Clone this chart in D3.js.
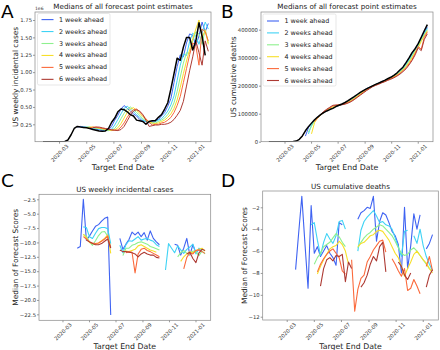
<!DOCTYPE html>
<html>
<head>
<meta charset="utf-8">
<script src="https://cdn.jsdelivr.net/npm/d3@7"></script>
<style>
  body { margin: 0; background: #fff; }
  svg { display: block; font-family: "DejaVu Sans", sans-serif; }
</style>
</head>
<body>
<div id="chart"></div>
<script>
const n = null;

// week-ending dates (Saturdays), one per column of every series below
const weekEnds = [
  "2020-01-25", "2020-02-01", "2020-02-08", "2020-02-15", "2020-02-22", "2020-02-29", "2020-03-07", "2020-03-14", "2020-03-21", "2020-03-28",
  "2020-04-04", "2020-04-11", "2020-04-18", "2020-04-25", "2020-05-02", "2020-05-09", "2020-05-16", "2020-05-23", "2020-05-30", "2020-06-06",
  "2020-06-13", "2020-06-20", "2020-06-27", "2020-07-04", "2020-07-11", "2020-07-18", "2020-07-25", "2020-08-01", "2020-08-08", "2020-08-15",
  "2020-08-22", "2020-08-29", "2020-09-05", "2020-09-12", "2020-09-19", "2020-09-26", "2020-10-03", "2020-10-10", "2020-10-17", "2020-10-24",
  "2020-10-31", "2020-11-07", "2020-11-14", "2020-11-21", "2020-11-28", "2020-12-05", "2020-12-12", "2020-12-19", "2020-12-26", "2021-01-02",
  "2021-01-09", "2021-01-16", "2021-01-23", "2021-01-30"
];

const horizonLabels = ["1 week ahead", "2 weeks ahead", "3 weeks ahead", "4 weeks ahead", "5 weeks ahead", "6 weeks ahead"];
const xTickLabels = ["2020-03-01", "2020-05-01", "2020-07-01", "2020-09-01", "2020-11-01", "2021-01-01"];

// A: US weekly incidental cases (x 1e6)
const casesTruth = [
  0, 0, 0, 0, 0, 0, 0.0004, 0.003, 0.025, 0.10,
  0.19, 0.22, 0.21, 0.205, 0.20, 0.19, 0.175, 0.165, 0.155, 0.15,
  0.155, 0.19, 0.28, 0.34, 0.43, 0.47, 0.46, 0.43, 0.39, 0.37,
  0.31, 0.30, 0.29, 0.25, 0.29, 0.30, 0.30, 0.35, 0.39, 0.47,
  0.56, 0.76, 0.98, 1.20, 1.17, 1.36, 1.50, 1.50, 1.32, 1.45,
  1.71, 1.52, 1.24, n
];
const casesH1 = [
  n, n, n, n, n, n, n, n, n, n,
  n, 0.21, 0.22, 0.21, 0.205, 0.20, 0.19, 0.18, 0.17, 0.16,
  0.16, 0.17, 0.22, 0.31, 0.38, 0.47, 0.52, 0.48, 0.44, 0.40,
  0.37, 0.32, 0.30, 0.29, 0.27, 0.29, 0.31, 0.32, 0.37, 0.42,
  0.51, 0.62, 0.85, 1.08, 1.25, 1.22, 1.42, 1.55, 1.53, 1.38,
  1.52, 1.72, 1.58, 1.70
];
const casesH2 = [
  n, n, n, n, n, n, n, n, n, n,
  n, n, 0.21, 0.21, 0.21, 0.205, 0.20, 0.19, 0.18, 0.17,
  0.16, 0.16, 0.18, 0.24, 0.32, 0.40, 0.48, 0.51, 0.47, 0.43,
  0.39, 0.35, 0.31, 0.29, 0.28, 0.27, 0.29, 0.31, 0.33, 0.38,
  0.44, 0.53, 0.66, 0.88, 1.10, 1.26, 1.24, 1.44, 1.56, 1.52,
  1.40, 1.56, 1.72, 1.62
];
const casesH3 = [
  n, n, n, n, n, n, n, n, n, n,
  n, n, n, 0.20, 0.21, 0.21, 0.20, 0.195, 0.19, 0.18,
  0.17, 0.16, 0.165, 0.19, 0.25, 0.33, 0.41, 0.47, 0.50, 0.46,
  0.42, 0.38, 0.33, 0.30, 0.28, 0.27, 0.27, 0.29, 0.31, 0.34,
  0.39, 0.46, 0.56, 0.72, 0.93, 1.13, 1.28, 1.27, 1.45, 1.58,
  1.55, 1.40, 1.62, 1.42
];
const casesH4 = [
  n, n, n, n, n, n, n, n, n, n,
  n, n, n, n, 0.20, 0.21, 0.21, 0.20, 0.195, 0.185,
  0.18, 0.17, 0.16, 0.17, 0.20, 0.26, 0.34, 0.42, 0.47, 0.49,
  0.45, 0.41, 0.36, 0.32, 0.29, 0.27, 0.26, 0.27, 0.29, 0.31,
  0.35, 0.40, 0.48, 0.60, 0.78, 0.98, 1.16, 1.32, 1.48, 1.62,
  1.75, 1.50, 1.60, 1.40
];
const casesH5 = [
  n, n, n, n, n, n, n, n, n, n,
  n, n, n, n, n, 0.20, 0.21, 0.21, 0.20, 0.19,
  0.185, 0.18, 0.17, 0.165, 0.17, 0.21, 0.27, 0.35, 0.42, 0.46,
  0.47, 0.43, 0.38, 0.33, 0.28, 0.24, 0.25, 0.25, 0.27, 0.28,
  0.31, 0.35, 0.42, 0.52, 0.65, 0.85, 1.05, 1.25, 1.42, 1.38,
  1.10, 1.62, 1.58, 1.45
];
const casesH6 = [
  n, n, n, n, n, n, n, n, n, n,
  n, n, n, n, n, n, 0.20, 0.21, 0.21, 0.20,
  0.19, 0.18, 0.17, 0.165, 0.16, 0.175, 0.22, 0.30, 0.38, 0.44,
  0.46, 0.44, 0.39, 0.31, 0.22, 0.23, 0.24, 0.24, 0.25, 0.25,
  0.26, 0.28, 0.32, 0.38, 0.45, 0.58, 0.80, 1.02, 1.22, 1.45,
  1.28, 1.10, 1.45, 1.30
];

// B: US cumulative deaths
const deathsTruth = [
  0, 0, 0, 0, 0, 0, 20, 60, 340, 2200,
  8500, 20600, 38900, 53800, 66300, 78300, 88000, 96600, 103800, 109800,
  114700, 119100, 125500, 130000, 134600, 140000, 146500, 154000, 161000, 168500,
  175700, 182600, 188600, 193800, 199500, 204500, 209300, 214200, 219000, 224800,
  230000, 236600, 245000, 255800, 266000, 282000, 299000, 318000, 332000, 350000,
  373000, 396000, 418000, n
];
const deathsH1 = [
  n, n, n, n, n, n, n, n, n, n,
  n, n, 20000, 50000, 65000, 78000, 88000, 97000, 104000, 110000,
  116000, 121000, 126000, 129000, 133000, 138000, 145000, 152000, 160000, 167000,
  175000, 182000, 189000, 194000, 199000, 204000, 209000, 214000, 219000, 224000,
  230000, 236000, 244000, 254000, 266000, 280000, 297000, 316000, 333000, 349000,
  370000, 392000, 410000, n
];
const deathsH2 = [
  n, n, n, n, n, n, n, n, n, n,
  n, n, n, 28000, 60000, 76000, 87000, 96000, 104000, 111000,
  117000, 122000, 127000, 130000, 133000, 137000, 143000, 150000, 158000, 166000,
  174000, 181000, 188000, 194000, 199000, 204000, 209000, 213000, 218000, 223000,
  229000, 235000, 242000, 251000, 262000, 276000, 292000, 310000, 330000, 345000,
  365000, 385000, 405000, n
];
const deathsH3 = [
  n, n, n, n, n, n, n, n, n, n,
  n, n, n, 35000, 55000, 74000, 86000, 96000, 104000, 112000,
  118000, 123000, 127000, 130000, 133000, 137000, 142000, 148000, 156000, 164000,
  172000, 180000, 187000, 193000, 199000, 204000, 208000, 213000, 217000, 222000,
  227000, 233000, 240000, 249000, 259000, 272000, 288000, 305000, 325000, 340000,
  362000, 382000, 400000, n
];
const deathsH4 = [
  n, n, n, n, n, n, n, n, n, n,
  n, n, n, n, 28000, 68000, 84000, 95000, 104000, 112000,
  119000, 124000, 128000, 131000, 133000, 136000, 141000, 147000, 154000, 162000,
  170000, 178000, 186000, 192000, 198000, 203000, 207000, 212000, 216000, 221000,
  226000, 231000, 238000, 246000, 256000, 268000, 283000, 300000, 320000, 336000,
  358000, 378000, 396000, n
];
const deathsH5 = [
  n, n, n, n, n, n, n, n, n, n,
  n, n, n, n, n, 72000, 85000, 97000, 106000, 114000,
  121000, 127000, 130000, 132000, 134000, 136000, 140000, 145000, 152000, 160000,
  168000, 176000, 184000, 191000, 197000, 202000, 206000, 211000, 215000, 220000,
  225000, 230000, 236000, 244000, 253000, 264000, 278000, 294000, 315000, 340000,
  330000, 372000, 392000, n
];
const deathsH6 = [
  n, n, n, n, n, n, n, n, n, n,
  n, n, n, n, n, n, 86000, 98000, 108000, 116000,
  123000, 130000, 131000, 130000, 132000, 134000, 138000, 143000, 150000, 158000,
  166000, 174000, 182000, 189000, 196000, 201000, 205000, 210000, 214000, 219000,
  223000, 228000, 234000, 241000, 250000, 260000, 274000, 290000, 310000, 335000,
  325000, 365000, 385000, n
];

// C: median forecast scores, US weekly incidental cases
const casesScoreH1 = [
  n, n, n, n, n, n, n, n, n, n,
  -11.0, -10.7, -2.5, -9.6, -8.9, -8.0, -7.2, -6.9, -6.3, -5.8,
  -5.6, -22.6, n, n, -9.3, -11.2, -10.3, -9.5, -8.2, -8.7,
  -8.2, -9.0, -8.3, -9.6, -8.0, -9.3, -9.9, -10.4, n, n,
  n, n, -10.3, -10.5, -12.2, -11.0, -9.3, -12.2, -10.4, -11.8,
  -11.2, -11.7, n, n
];
const casesScoreH2 = [
  n, n, n, n, n, n, n, n, n, n,
  n, n, -7.3, -7.4, -9.0, -9.3, -8.4, -7.6, -7.4, -7.4,
  -7.6, -10.2, n, n, -10.5, -11.8, -10.4, -9.7, -9.8, -9.4,
  -9.0, -9.6, -9.4, -9.3, -9.6, -9.8, -10.4, -10.7, n, -14.8,
  -10.2, -11.0, -11.8, -10.6, -11.3, -11.9, -11.2, -10.8, -10.3, -12.0,
  -11.0, -11.3, n, n
];
const casesScoreH3 = [
  n, n, n, n, n, n, n, n, n, n,
  n, n, -8.6, -8.9, -9.9, -10.5, -9.7, -8.8, -8.2, -8.1,
  -8.9, -10.8, n, n, n, -12.3, -11.0, -11.0, -10.5, -10.3,
  -10.0, -9.9, -10.1, -10.3, -10.7, -10.9, -11.1, -11.3, n, n,
  n, n, n, -12.5, -11.8, -11.4, -11.9, -12.1, -11.5, -11.6,
  -12.3, -11.5, -12.0, n
];
const casesScoreH4 = [
  n, n, n, n, n, n, n, n, n, n,
  n, n, -8.6, -9.2, -10.0, -10.2, -10.3, -10.1, -9.7, -9.3,
  -8.7, -11.9, n, n, n, -11.6, -11.5, -11.6, -11.4, -11.2,
  -10.6, -10.4, -10.7, -11.0, -11.3, -11.5, -11.7, n, n, n,
  n, n, n, n, -13.3, -12.5, -12.0, -11.6, -11.8, -11.4,
  -11.2, -11.0, -11.5, n
];
const casesScoreH5 = [
  n, n, n, n, n, n, n, n, n, n,
  n, n, -9.0, -9.4, -9.9, -10.1, -10.2, -10.1, -9.8, -9.4,
  -8.9, -10.9, n, n, n, n, -11.8, -11.6, -11.7, -15.3,
  -12.0, -11.2, -11.0, -11.4, -11.6, -11.9, -12.2, -12.5, n, n,
  n, n, n, n, n, -14.6, -12.6, -11.8, -12.0, -11.4,
  -11.3, -11.6, -11.9, n
];
const casesScoreH6 = [
  n, n, n, n, n, n, n, n, n, n,
  n, n, n, -9.6, -9.9, -10.2, -10.4, -10.4, -10.2, -9.8,
  -9.4, -11.0, n, n, -11.3, -11.6, -11.6, -11.7, -11.8, -12.0,
  -12.5, -12.0, -11.7, -12.0, -12.2, -12.2, -12.6, -12.7, n, n,
  n, n, n, n, n, n, -12.0, -11.7, -12.8, -13.5,
  -11.8, -11.2, -11.4, n
];

// D: median forecast scores, US cumulative deaths
const deathsScoreH1 = [
  n, n, n, n, n, n, n, n, -7.7, -4.3,
  -1.0, -5.3, -9.4, -1.85, -6.2, -5.6, -6.5, -6.0, -5.5, -6.2,
  -6.6, -7.3, -3.4, -3.6, n, n, n, n, -3.1, -2.5,
  -2.3, -2.0, -2.1, -1.0, -5.1, -3.3, -2.5, -2.7, -3.4, -4.2,
  -4.6, -5.4, -8.0, -2.0, -7.6, -5.5, -2.6, -4.0, -2.7, n,
  -5.8, -5.3, -4.5, n
];
const deathsScoreH2 = [
  n, n, n, n, n, n, n, n, n, n,
  n, n, n, -3.6, -3.4, -5.0, -6.4, -5.2, -4.4, -4.9,
  -5.3, -4.6, -3.3, -3.2, -4.0, n, n, n, -6.0, -4.1,
  -3.3, -2.9, -2.6, -2.3, -2.8, -3.4, -3.3, -3.6, -3.7, -4.0,
  -4.8, -5.6, -6.5, -4.2, -4.1, n, -4.6, -5.3, -4.0, -5.5,
  -6.5, -7.2, -7.8, n
];
const deathsScoreH3 = [
  n, n, n, n, n, n, n, n, n, n,
  n, n, n, n, -7.2, -6.6, -6.2, -5.6, -5.4, -5.2,
  -4.8, -4.4, -4.7, -5.2, -5.6, n, n, n, -5.7, -5.2,
  -4.8, -4.5, -4.3, -4.0, -3.8, -3.6, -3.7, -4.0, -4.3, -4.6,
  -5.1, -5.7, -6.2, -6.4, -6.3, -5.9, -5.7, -6.0, -6.4, -6.8,
  -7.2, -7.6, -7.8, n
];
const deathsScoreH4 = [
  n, n, n, n, n, n, n, n, n, n,
  n, n, n, n, n, -8.1, -7.4, -6.8, -6.3, -5.8,
  -5.6, -5.5, -5.1, -5.4, -6.0, -7.2, n, n, -5.6, -5.3,
  -5.2, -4.9, -4.6, -4.5, -4.2, -4.1, -4.2, -4.6, -5.0, -5.6,
  -6.2, -6.6, -7.4, -8.3, -7.6, -7.0, -6.3, -6.0, -6.4, -6.8,
  -7.1, -7.6, -8.0, n
];
const deathsScoreH5 = [
  n, n, n, n, n, n, n, n, n, n,
  n, n, n, n, n, -7.9, -7.2, -6.7, -6.3, -6.0,
  -5.8, -6.2, -6.6, -7.8, -8.1, n, -6.8, -11.5, -9.5, -8.5,
  -8.2, -7.0, -6.5, -5.9, -5.5, -5.1, -5.0, -6.1, n, -6.7,
  -7.2, -7.8, -8.3, -7.6, -9.6, -9.4, -8.6, -9.2, -9.9, n,
  -7.4, -6.5, -7.8, n
];
const deathsScoreH6 = [
  n, n, n, n, n, n, n, n, n, n,
  n, n, n, n, n, n, -9.2, -7.6, -6.8, -6.6,
  -6.9, -6.4, -6.5, -6.3, -8.8, -7.0, -7.6, n, n, -9.3,
  -8.9, -8.2, -7.2, -6.5, -6.9, -5.6, -5.2, -7.9, n, n,
  n, -7.0, -7.4, -8.2, -8.6, -8.0, n, n, n, n,
  -9.3, -8.2, -7.7, n
];

const horizonColors = ["#3f63f2", "#3fd3f5", "#8ef08e", "#f7df2a", "#fb6a3c", "#ad3a33"];

const width = 440;
const height = 350;

const parseDate = d3.timeParse("%Y-%m-%d");
const weekDates = weekEnds.map(parseDate);
const xTicks = xTickLabels.map(parseDate);
const xDomain = [parseDate("2020-01-07"), parseDate("2021-02-05")];

const svg = d3.select("#chart")
    .append("svg")
    .attr("width", width)
    .attr("height", height);

function drawPanel(p) {
    const x = d3.scaleTime().domain(xDomain).range([p.left, p.right]);
    const y = d3.scaleLinear().domain(p.yDomain).range([p.bottom, p.top]);
    const g = svg.append("g");

    const clipId = "clip-" + p.letter;
    g.append("clipPath")
        .attr("id", clipId)
        .append("rect")
        .attr("x", p.left)
        .attr("y", p.top)
        .attr("width", p.right - p.left)
        .attr("height", p.bottom - p.top);

    const line = d3.line()
        .defined(d => d != null)
        .x((d, i) => x(weekDates[i]))
        .y(d => y(d));

    const plot = g.append("g").attr("clip-path", `url(#${clipId})`);

    p.series.forEach((values, k) => {
        plot.append("path")
            .datum(values)
            .attr("d", line)
            .attr("fill", "none")
            .attr("stroke", horizonColors[k])
            .attr("stroke-width", p.lineWidth)
            .attr("stroke-linejoin", "round");
    });

    if (p.truth) {
        plot.append("path")
            .datum(p.truth)
            .attr("d", line)
            .attr("fill", "none")
            .attr("stroke", "#000")
            .attr("stroke-width", 1.5)
            .attr("stroke-linejoin", "round");
    }

    const yAxis = g.append("g")
        .attr("transform", `translate(${p.left},0)`)
        .call(d3.axisLeft(y).tickValues(p.yTicks).tickFormat(p.yFormat).tickSize(2).tickPadding(1));

    const xAxis = g.append("g")
        .attr("transform", `translate(0,${p.bottom})`)
        .call(d3.axisBottom(x).tickValues(xTicks).tickFormat(d3.timeFormat("%Y-%m")).tickSize(2));

    [xAxis, yAxis].forEach(a => {
        a.attr("font-family", "DejaVu Sans").attr("font-size", 5.3);
        a.select(".domain").remove();
        a.selectAll(".tick line").attr("stroke", "#555").attr("stroke-width", 0.6);
        a.selectAll(".tick text").attr("fill", "#333");
    });

    xAxis.selectAll(".tick text")
        .attr("y", 0)
        .attr("dy", 0)
        .attr("text-anchor", "middle")
        .attr("dominant-baseline", "central")
        .attr("transform", "translate(0,11.3) rotate(-45)");

    g.append("rect")
        .attr("x", p.left)
        .attr("y", p.top)
        .attr("width", p.right - p.left)
        .attr("height", p.bottom - p.top)
        .attr("fill", "none")
        .attr("stroke", "#888")
        .attr("stroke-width", 0.7);

    g.append("text")
        .attr("x", (p.left + p.right) / 2)
        .attr("y", p.titleY)
        .attr("text-anchor", "middle")
        .attr("font-size", 7.2)
        .attr("fill", "#222")
        .text(p.title);

    g.append("text")
        .attr("x", (p.left + p.right) / 2)
        .attr("y", p.bottom + 28.5)
        .attr("text-anchor", "middle")
        .attr("font-size", 7.8)
        .attr("fill", "#222")
        .text("Target End Date");

    g.append("text")
        .attr("transform", `translate(${p.ylabelX},${(p.top + p.bottom) / 2}) rotate(-90)`)
        .attr("text-anchor", "middle")
        .attr("font-size", 7.4)
        .attr("fill", "#222")
        .text(p.ylabel);

    g.append("text")
        .attr("x", p.letterX)
        .attr("y", p.letterY)
        .attr("font-size", 18.5)
        .attr("fill", "#000")
        .text(p.letter);

    if (p.offsetText) {
        g.append("text")
            .attr("x", p.left)
            .attr("y", p.top - 2)
            .attr("font-size", 4.5)
            .attr("fill", "#333")
            .text(p.offsetText);
    }

    if (p.legend) {
        const L = p.legend;
        const lg = g.append("g");
        lg.append("rect")
            .attr("x", L.x)
            .attr("y", L.y)
            .attr("width", L.w)
            .attr("height", L.h)
            .attr("rx", 1.5)
            .attr("fill", "#fff")
            .attr("fill-opacity", 0.85)
            .attr("stroke", "#d6d6d6")
            .attr("stroke-width", 0.6);
        horizonLabels.forEach((label, k) => {
            const yy = L.firstY + k * L.step;
            lg.append("line")
                .attr("x1", L.x + 4)
                .attr("x2", L.x + 16)
                .attr("y1", yy)
                .attr("y2", yy)
                .attr("stroke", horizonColors[k])
                .attr("stroke-width", 1.1);
            lg.append("text")
                .attr("x", L.x + 21.5)
                .attr("y", yy)
                .attr("dominant-baseline", "central")
                .attr("font-size", 6.4)
                .attr("fill", "#222")
                .text(label);
        });
    }
}

drawPanel({
    letter: "A", letterX: 1, letterY: 17.5,
    left: 35, right: 211, top: 12, bottom: 141.7,
    yDomain: [0, 1.865], yTicks: [0.25, 0.5, 0.75, 1.0, 1.25, 1.5, 1.75], yFormat: d3.format(".2f"),
    title: "Medians of all forecast point estimates", titleY: 9,
    ylabel: "US weekly incidental cases", ylabelX: 17.5,
    series: [casesH1, casesH2, casesH3, casesH4, casesH5, casesH6], truth: casesTruth,
    lineWidth: 1, offsetText: "1e6",
    legend: { x: 37.5, y: 13.5, w: 72.5, h: 71.5, firstY: 19.6, step: 11.95 }
});

drawPanel({
    letter: "B", letterX: 221, letterY: 17.5,
    left: 261, right: 433, top: 12, bottom: 141.7,
    yDomain: [0, 463000], yTicks: [0, 100000, 200000, 300000, 400000], yFormat: d3.format("d"),
    title: "Medians of all forecast point estimates", titleY: 9,
    ylabel: "US cumulative deaths", ylabelX: 236,
    series: [deathsH1, deathsH2, deathsH3, deathsH4, deathsH5, deathsH6], truth: deathsTruth,
    lineWidth: 1,
    legend: { x: 263, y: 14, w: 73, h: 72, firstY: 21, step: 11.9 }
});

drawPanel({
    letter: "C", letterX: 1, letterY: 186.5,
    left: 39, right: 210.7, top: 194.3, bottom: 320.3,
    yDomain: [-23.54, -1.63], yTicks: [-22.5, -20, -17.5, -15, -12.5, -10, -7.5, -5, -2.5], yFormat: d3.format(".1f"),
    title: "US weekly incidental cases", titleY: 191.5,
    ylabel: "Median of Forecast Scores", ylabelX: 17.5,
    series: [casesScoreH1, casesScoreH2, casesScoreH3, casesScoreH4, casesScoreH5, casesScoreH6],
    lineWidth: 1.1
});

drawPanel({
    letter: "D", letterX: 221, letterY: 186.5,
    left: 262.7, right: 438.3, top: 191, bottom: 320,
    yDomain: [-12.3, -0.51], yTicks: [-12, -10, -8, -6, -4, -2], yFormat: d3.format("d"),
    title: "US cumulative deaths", titleY: 188.5,
    ylabel: "Median of Forecast Scores", ylabelX: 246.5,
    series: [deathsScoreH1, deathsScoreH2, deathsScoreH3, deathsScoreH4, deathsScoreH5, deathsScoreH6],
    lineWidth: 1.1
});
</script>
</body>
</html>
